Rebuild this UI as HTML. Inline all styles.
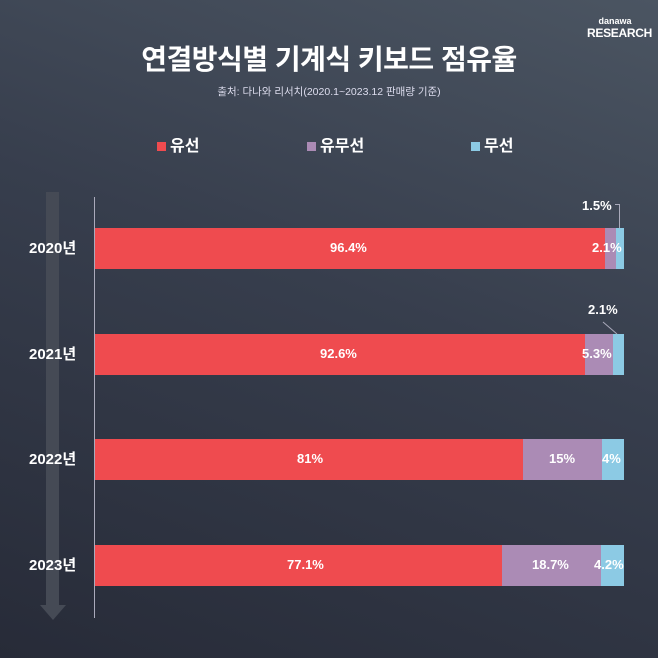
<!DOCTYPE html>
<html><head><meta charset="utf-8"><style>
body{margin:0}
#c{position:relative;width:658px;height:658px;overflow:hidden;font-family:"Liberation Sans","Noto Sans CJK KR",sans-serif;color:#fff;
background:linear-gradient(200deg,#4b5562 0%,#373e4d 45%,#272b38 100%);}
.a{position:absolute}
.bar{position:absolute;left:95px;height:41px;display:flex}
.bar div{height:100%;position:relative}
.r{background:#ef4b4f}.p{background:#ab8bb5}.b{background:#8ccae4}
.l{position:absolute;top:12px;font-size:13px;font-weight:bold;white-space:nowrap}
.y{position:absolute;left:29px;font-size:15px;font-weight:bold}
</style></head><body><div id="c">
<div class="a" style="left:590px;top:17px;width:50px;text-align:center;font-size:9px;font-weight:bold;line-height:9px">danawa</div>
<div class="a" style="left:587px;top:26px;font-size:12px;font-weight:bold;letter-spacing:-0.3px">RESEARCH</div>
<div class="a" style="left:0;width:658px;top:38px;text-align:center;font-size:28px;font-weight:bold;letter-spacing:-0.5px">연결방식별 기계식 키보드 점유율</div>
<div class="a" style="left:0;width:658px;top:84px;text-align:center;font-size:10.5px;color:#dde">출처: 다나와 리서치(2020.1~2023.12 판매량 기준)</div>
<div class="a" style="left:157px;top:132px;font-size:16px;font-weight:bold"><span style="display:inline-block;width:9px;height:9px;background:#ef4b4f;margin-right:4px"></span>유선</div>
<div class="a" style="left:307px;top:132px;font-size:16px;font-weight:bold"><span style="display:inline-block;width:9px;height:9px;background:#ab8bb5;margin-right:4px"></span>유무선</div>
<div class="a" style="left:471px;top:132px;font-size:16px;font-weight:bold"><span style="display:inline-block;width:9px;height:9px;background:#8ccae4;margin-right:4px"></span>무선</div>
<div class="a" style="left:46px;top:192px;width:13px;height:414px;background:#454a55"></div>
<div class="a" style="left:40px;top:605px;width:0;height:0;border-left:13px solid transparent;border-right:13px solid transparent;border-top:15px solid #454a55"></div>
<div class="a" style="left:94px;top:197px;width:1px;height:421px;background:#aab"></div>
<div class="y" style="top:237px">2020년</div>
<div class="y" style="top:343px">2021년</div>
<div class="y" style="top:448px">2022년</div>
<div class="y" style="top:554px">2023년</div>
<div class="bar" style="top:228px"><div class="r" style="width:510px"><span class="l" style="left:235px">96.4%</span></div><div class="p" style="width:11px"></div><div class="b" style="width:8px"></div></div>
<div class="l a" style="left:592px;top:240px">2.1%</div>
<div class="a" style="left:582px;top:198px;font-size:13px;font-weight:bold">1.5%</div>
<div class="a" style="left:615px;top:204px;width:5px;height:24px;border-top:1px solid #aab;border-right:1px solid #aab;box-sizing:border-box"></div>
<div class="bar" style="top:334px"><div class="r" style="width:490px"><span class="l" style="left:225px">92.6%</span></div><div class="p" style="width:28px"></div><div class="b" style="width:11px"></div></div>
<div class="l a" style="left:582px;top:346px">5.3%</div>
<div class="a" style="left:588px;top:302px;font-size:13px;font-weight:bold">2.1%</div>
<svg class="a" style="left:600px;top:320px" width="20" height="16"><line x1="3" y1="2" x2="17" y2="14" stroke="#aab" stroke-width="1"/></svg>
<div class="bar" style="top:439px"><div class="r" style="width:428px"><span class="l" style="left:202px">81%</span></div><div class="p" style="width:79px"><span class="l" style="left:26px">15%</span></div><div class="b" style="width:22px"><span class="l" style="left:0px">4%</span></div></div>
<div class="bar" style="top:545px"><div class="r" style="width:407px"><span class="l" style="left:192px">77.1%</span></div><div class="p" style="width:99px"><span class="l" style="left:30px">18.7%</span></div><div class="b" style="width:23px"><span class="l" style="left:-7px">4.2%</span></div></div>
</div></body></html>
